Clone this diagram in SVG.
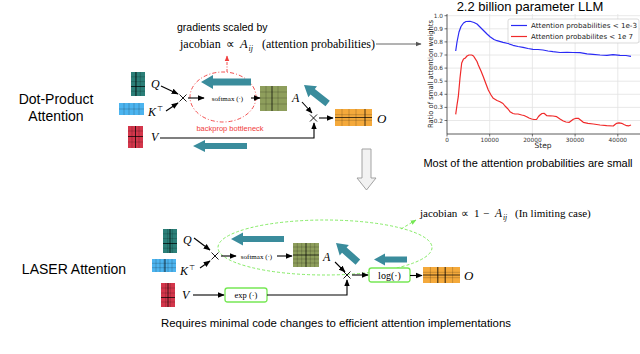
<svg xmlns="http://www.w3.org/2000/svg" width="640" height="354" viewBox="0 0 640 354">
<style>
.sans{font-family:"Liberation Sans",Arial,sans-serif}
.serif{font-family:"Liberation Serif","Times New Roman",serif}
.math{font-family:"Liberation Serif","Times New Roman",serif;font-style:italic}
.ln{stroke:#000;stroke-width:1.1;fill:none}
.x{stroke:#000;stroke-width:0.9;fill:none}
.mt{stroke:#000;stroke-opacity:.3;stroke-width:.6;fill:none}
.mk{stroke:#000;stroke-opacity:.7;stroke-width:1;fill:none}
.teal{fill:#3a8c9c}
.gbox{fill:#fff;stroke:#77e855;stroke-width:1.3}
.grid{stroke:#e2e2e2;stroke-width:0.8}
.tick{font-family:"DejaVu Sans",sans-serif;font-size:5.8px;fill:#333}
</style>
<defs>
<marker id="ah" viewBox="0 0 10 10" refX="9" refY="5" markerWidth="7" markerHeight="7" markerUnits="userSpaceOnUse" orient="auto"><path d="M0,1 L10,5 L0,9 z" fill="#000"/></marker>
<marker id="ahg" viewBox="0 0 10 10" refX="9" refY="5" markerWidth="6" markerHeight="6" markerUnits="userSpaceOnUse" orient="auto"><path d="M0,1 L10,5 L0,9 z" fill="#555"/></marker>
<marker id="ahr" viewBox="0 0 10 10" refX="9" refY="5" markerWidth="6" markerHeight="6" markerUnits="userSpaceOnUse" orient="auto"><path d="M0,1 L10,5 L0,9 z" fill="#f03c3c"/></marker>
<marker id="ahgr" viewBox="0 0 10 10" refX="9" refY="5" markerWidth="6" markerHeight="6" markerUnits="userSpaceOnUse" orient="auto"><path d="M0,1 L10,5 L0,9 z" fill="#77e855"/></marker>
</defs>

<!-- ===== Top: Dot-Product Attention ===== -->
<g id="label-dot">
<text class="sans" x="56" y="104" font-size="14" text-anchor="middle">Dot-Product</text>
<text class="sans" x="56" y="121" font-size="14" text-anchor="middle">Attention</text>
</g>

<g id="grad-note">
<text class="sans" x="177" y="31" font-size="10.5">gradients scaled by</text>
<text class="serif" x="180" y="48" font-size="12">jacobian</text>
<text class="serif" x="226" y="48" font-size="12">∝</text>
<text class="math" x="240" y="48" font-size="12.5">A</text>
<text class="math" x="248.5" y="50.5" font-size="8">ij</text>
<text class="serif" x="262" y="48" font-size="12">(attention probabilities)</text>
</g>

<g id="bottleneck">
<ellipse cx="223" cy="97" rx="33" ry="25" fill="none" stroke="#f03c3c" stroke-width="0.9" stroke-dasharray="4,2,1,2"/>
<text class="sans" x="230" y="130.5" font-size="7.5" fill="#f03c3c" text-anchor="middle">backprop bottleneck</text>
</g>

<g id="Q1">
<rect x="131" y="72" width="14" height="24" fill="#2b7f78"/>
<path class="mt" d="M135.7,72V96M140.3,72V96M131,76.8H145M131,81.6H145M131,91.2H145"/>
<path class="mk" d="M136,72V96M131,86.5H145"/>
</g>
<g id="K1">
<rect x="119" y="103" width="25" height="12" fill="#4cb4ef"/>
<path class="mt" d="M124,103V115M129,103V115M134,103V115M139,103V115M119,109H144"/>
</g>
<g id="V1">
<rect x="128" y="126" width="15" height="22" fill="#d4364b"/>
<path class="mt" d="M132,126V148M139,126V148M128,131H143M128,142H143"/>
<path class="mk" d="M135.5,126V148M128,136.5H143"/>
</g>
<g id="A1">
<rect x="260" y="86" width="27" height="25" fill="#8e9e5c"/>
<path class="mt" d="M266,86V111M278,86V111M260,92H287M260,98H287M260,104H287"/>
<path class="mk" d="M272,86V111"/>
</g>
<g id="O1">
<rect x="335" y="109" width="37" height="17" fill="#f4a93b"/>
<path class="mt" d="M342,109V126M349,109V126M356,109V126M335,114.7H372M335,120.3H372"/>
<path class="mk" d="M365,109V126M335,117.5H372"/>
</g>

<g id="labels1">
<text class="math" x="151" y="88" font-size="12">Q</text>
<text class="math" x="148" y="116" font-size="12">K</text>
<text class="serif" x="157" y="111" font-size="7">⊤</text>
<text class="math" x="151" y="141" font-size="12">V</text>
<text class="math" x="292" y="102" font-size="12">A</text>
<text class="math" x="377" y="123" font-size="13">O</text>
<text class="serif" x="227.5" y="101" font-size="7" text-anchor="middle">softmax (·)</text>
</g>

<g id="mul1">
<path class="x" d="M179.5,94.5L186.5,101.5M186.5,94.5L179.5,101.5"/>
<path class="x" d="M310,114.5L317,121.5M317,114.5L310,121.5"/>
</g>

<g id="connectors-top">
<line class="ln" x1="161" y1="86" x2="178" y2="94" marker-end="url(#ah)"/>
<line class="ln" x1="166" y1="111" x2="178" y2="103" marker-end="url(#ah)"/>
<line class="ln" x1="188" y1="98" x2="204" y2="98" marker-end="url(#ah)"/>
<line class="ln" x1="251" y1="98" x2="260" y2="98" marker-end="url(#ah)"/>
<line class="ln" x1="302" y1="102" x2="312" y2="113" marker-end="url(#ah)"/>
<line class="ln" x1="319" y1="118" x2="333" y2="118" marker-end="url(#ah)"/>
<path class="ln" d="M160,138H314V123" marker-end="url(#ah)"/>
<line x1="227" y1="72" x2="227" y2="56" stroke="#f03c3c" stroke-width="0.9" stroke-dasharray="3,1.5,1,1.5" marker-end="url(#ahr)"/>
<line x1="376" y1="44" x2="421" y2="44" stroke="#555" stroke-width="0.9" marker-end="url(#ahg)"/>
<polygon class="teal" points="201,82 213,75 213,78.5 251,78.5 251,85.5 213,85.5 213,89"/>
<polygon class="teal" points="193,146 205,140 205,143 247,143 247,149 205,149 205,152"/>
<polygon class="teal" transform="translate(304,85) rotate(38)" points="0,0 11,-7 11,-3.5 30,-3.5 30,3.5 11,3.5 11,7"/>
</g>

<!-- ===== Chart ===== -->
<g id="chart">
<text class="sans" x="530" y="11" font-size="13" text-anchor="middle">2.2 billion parameter LLM</text>
<g class="grid">
<line x1="447" y1="15.7" x2="640" y2="15.7"/>
<line x1="447" y1="28.8" x2="640" y2="28.8"/>
<line x1="447" y1="41.9" x2="640" y2="41.9"/>
<line x1="447" y1="55" x2="640" y2="55"/>
<line x1="447" y1="68.1" x2="640" y2="68.1"/>
<line x1="447" y1="81.2" x2="640" y2="81.2"/>
<line x1="447" y1="94.3" x2="640" y2="94.3"/>
<line x1="447" y1="107.4" x2="640" y2="107.4"/>
<line x1="447" y1="120.5" x2="640" y2="120.5"/>
<line x1="489.7" y1="14" x2="489.7" y2="134"/>
<line x1="532.4" y1="14" x2="532.4" y2="134"/>
<line x1="575.1" y1="14" x2="575.1" y2="134"/>
<line x1="617.8" y1="14" x2="617.8" y2="134"/>
</g>
<path d="M447,14V134H640" fill="none" stroke="#333" stroke-width="0.8"/>
<path d="M444.5,15.7H447M444.5,28.8H447M444.5,41.9H447M444.5,55H447M444.5,68.1H447M444.5,81.2H447M444.5,94.3H447M444.5,107.4H447M444.5,120.5H447M447,134V136.5M489.7,134V136.5M532.4,134V136.5M575.1,134V136.5M617.8,134V136.5" stroke="#333" stroke-width="0.7"/>
<g class="tick" text-anchor="end">
<text x="443" y="17.7">1.0</text>
<text x="443" y="30.8">0.9</text>
<text x="443" y="43.9">0.8</text>
<text x="443" y="57">0.7</text>
<text x="443" y="70.1">0.6</text>
<text x="443" y="83.2">0.5</text>
<text x="443" y="96.3">0.4</text>
<text x="443" y="109.4">0.3</text>
<text x="443" y="122.5">0.2</text>
</g>
<g class="tick" text-anchor="middle">
<text x="447" y="141.5">0</text>
<text x="489.7" y="141.5">10000</text>
<text x="532.4" y="141.5">20000</text>
<text x="575.1" y="141.5">30000</text>
<text x="617.8" y="141.5">40000</text>
</g>
<text x="543" y="148" font-family="DejaVu Sans,sans-serif" font-size="7.5" fill="#222" text-anchor="middle">Step</text>
<text transform="translate(433,74) rotate(-90)" font-family="DejaVu Sans,sans-serif" font-size="7" fill="#222" text-anchor="middle" textLength="108" lengthAdjust="spacingAndGlyphs">Ratio of small attention weights</text>
<polyline fill="none" stroke="#2a2af5" stroke-width="1.2" stroke-linejoin="round" points="455.7,51 457,42 459,32 461,26.5 463.5,23 466,21.5 470,21.3 474,22.5 477,24 480,27 483,30 487,34 490,36.7 494,39.5 497,40.7 503,42.3 508,43.5 513,45.3 518,46.5 523,47.3 528,48.5 533,49.3 538,49.5 543,50 548,51 553,51.7 560,52.5 567,52.3 573,52.5 580,52.7 587,53.8 593,54.3 600,55 607,55.3 613,54.7 620,55.3 626,55.5 631,56.3"/>
<polyline fill="none" stroke="#f02a2a" stroke-width="1.2" stroke-linejoin="round" points="455.7,114.3 457,105 458.3,96.7 460,78 461.7,63 463.5,59 465,58.3 467,56 469,55 471.7,55 473.5,56 475,58.3 477,61.5 478.3,65 481,71 483.3,76.7 486,84 488.3,90 491,95 493.3,98.3 497,100.5 500,101.7 503,103.5 505,106 508,109 510,111.7 513,113.5 515,114 518,114 521.7,115 524,115.5 526.7,116.7 529,118 531.7,119 534,119.5 536.7,119.3 538.5,116.5 540,115 542,113.5 544,113.3 545.5,114.5 546.7,115.7 550,115.8 553,116 556.7,116.7 560,119 563.3,121 566,122 569.3,122.3 571,121 573.3,119.3 576,118.3 578.3,118.3 580.5,120 583.3,122.3 588,123.3 593.3,124 600,125 606.7,125.7 613.3,126 615,124.5 616.7,123.3 619,122.8 621.7,123.3 624,124.5 626.7,125.7 629,125.8 631,125"/>
<rect x="508" y="19" width="131" height="24" rx="2" fill="#fff" fill-opacity="0.9" stroke="#ccc" stroke-width="0.7"/>
<line x1="511" y1="25.5" x2="527" y2="25.5" stroke="#2a2af5" stroke-width="1.2"/>
<line x1="511" y1="36.5" x2="527" y2="36.5" stroke="#f02a2a" stroke-width="1.2"/>
<text x="531" y="28" font-family="DejaVu Sans,sans-serif" font-size="7" fill="#222" textLength="106" lengthAdjust="spacingAndGlyphs">Attention probabilities &lt; 1e-3</text>
<text x="531" y="39" font-family="DejaVu Sans,sans-serif" font-size="7" fill="#222" textLength="102" lengthAdjust="spacingAndGlyphs">Attention probabilites &lt; 1e 7</text>
<text class="sans" x="528" y="167" font-size="11" text-anchor="middle">Most of the attention probabilities are small</text>
</g>

<g id="down-arrow">
<polygon points="362,149 371,149 371,178 376,178 366.5,190 357,178 362,178" fill="#f2f2f2" stroke="#999" stroke-width="0.9"/>
</g>

<!-- ===== Bottom: LASER Attention ===== -->
<g id="label-laser">
<text class="sans" x="74" y="274" font-size="14" text-anchor="middle">LASER Attention</text>
</g>

<g id="laser-note">
<ellipse cx="325" cy="247.5" rx="107" ry="27.5" fill="none" stroke="#77e855" stroke-width="0.9" stroke-dasharray="3,2"/>
<text class="serif" x="420" y="217" font-size="11">jacobian</text>
<text class="serif" x="461" y="217" font-size="11">∝</text>
<text class="serif" x="474" y="217" font-size="11">1</text>
<text class="serif" x="483" y="217" font-size="11">−</text>
<text class="math" x="495" y="217" font-size="11.5">A</text>
<text class="math" x="503" y="219.5" font-size="7.5">ij</text>
<text class="serif" x="515" y="217" font-size="11">(In limiting case)</text>
</g>

<g id="Q2">
<rect x="163" y="229" width="14" height="24" fill="#2b7f78"/>
<path class="mt" d="M167.7,229V253M172.3,229V253M163,233.8H177M163,238.6H177M163,248.2H177"/>
<path class="mk" d="M170,229V253M163,243.5H177"/>
</g>
<g id="K2">
<rect x="152" y="259" width="24" height="13" fill="#4cb4ef"/>
<path class="mt" d="M156,259V272M160,259V272M164,259V272M168,259V272M172,259V272M152,263.3H176M152,267.7H176"/>
<path class="mk" d="M165,259V272" stroke-opacity="0.4"/>
</g>
<g id="V2">
<rect x="161" y="283" width="14" height="24" fill="#d4364b"/>
<path class="mt" d="M165.7,283V307M170.3,283V307M161,288H175M161,293H175M161,302H175"/>
<path class="mk" d="M168,283V307M161,297.5H175"/>
</g>
<g id="A2">
<rect x="293" y="243" width="26" height="24" fill="#8e9e5c"/>
<path class="mt" d="M297.3,243V267M301.7,243V267M310.3,243V267M314.7,243V267M293,247H319M293,251H319M293,259H319M293,263H319"/>
<path class="mk" d="M306,243V267M293,255H319"/>
</g>
<g id="O2">
<rect x="423" y="267" width="37" height="16" fill="#f4a93b"/>
<path class="mt" d="M430.4,267V283M437.8,267V283M445.2,267V283M452.6,267V283M423,272.3H460M423,277.7H460"/>
<path class="mk" d="M437.8,267V283M445.2,267V283M423,275H460" stroke-opacity="0.5"/>
</g>
<g id="log-box">
<rect class="gbox" x="369" y="268" width="41" height="14" rx="2.5"/>
<text class="serif" x="389.5" y="278.5" font-size="10" text-anchor="middle">log(·)</text>
</g>
<g id="exp-box">
<rect class="gbox" x="225" y="288" width="42" height="14" rx="2.5"/>
<text class="serif" x="246" y="298" font-size="8.5" text-anchor="middle">exp (·)</text>
</g>

<g id="labels2">
<text class="math" x="183" y="244" font-size="12">Q</text>
<text class="math" x="180" y="275" font-size="12">K</text>
<text class="serif" x="189" y="270" font-size="7">⊤</text>
<text class="math" x="182" y="299" font-size="12">V</text>
<text class="math" x="323" y="261" font-size="12">A</text>
<text class="math" x="464" y="280" font-size="13">O</text>
<text class="serif" x="256.5" y="259" font-size="7" text-anchor="middle">softmax (·)</text>
</g>

<g id="mul2">
<path class="x" d="M211.5,252.5L218.5,259.5M218.5,252.5L211.5,259.5"/>
<path class="x" d="M343.5,271.5L350.5,278.5M350.5,271.5L343.5,278.5"/>
</g>

<g id="connectors-bottom">
<line class="ln" x1="194" y1="238" x2="210" y2="250" marker-end="url(#ah)"/>
<line class="ln" x1="200" y1="268" x2="210" y2="261" marker-end="url(#ah)"/>
<line class="ln" x1="221" y1="256" x2="236" y2="256" marker-end="url(#ah)"/>
<line class="ln" x1="277" y1="256" x2="292" y2="256" marker-end="url(#ah)"/>
<line class="ln" x1="335" y1="262" x2="345" y2="272" marker-end="url(#ah)"/>
<line class="ln" x1="352" y1="275" x2="368" y2="275" marker-end="url(#ah)"/>
<line class="ln" x1="410" y1="275.5" x2="422" y2="275.5" marker-end="url(#ah)"/>
<line class="ln" x1="193" y1="295" x2="224" y2="295" marker-end="url(#ah)"/>
<path class="ln" d="M267,295H347V280" marker-end="url(#ah)"/>
<line x1="401" y1="229" x2="416" y2="220" stroke="#77e855" stroke-width="0.9" stroke-dasharray="3,2" marker-end="url(#ahgr)"/>
<polygon class="teal" points="231,239 243,232.5 243,236 284,236 284,242 243,242 243,245.5"/>
<polygon class="teal" points="374,259.5 385,253.5 385,256.5 407,256.5 407,262.5 385,262.5 385,265.5"/>
<polygon class="teal" transform="translate(336,243) rotate(41)" points="0,0 11,-7 11,-3.5 29,-3.5 29,3.5 11,3.5 11,7"/>
</g>

<g id="footer">
<text class="sans" x="161" y="327" font-size="11" textLength="350" lengthAdjust="spacingAndGlyphs">Requires minimal code changes to efficient attention implementations</text>
</g>
</svg>
